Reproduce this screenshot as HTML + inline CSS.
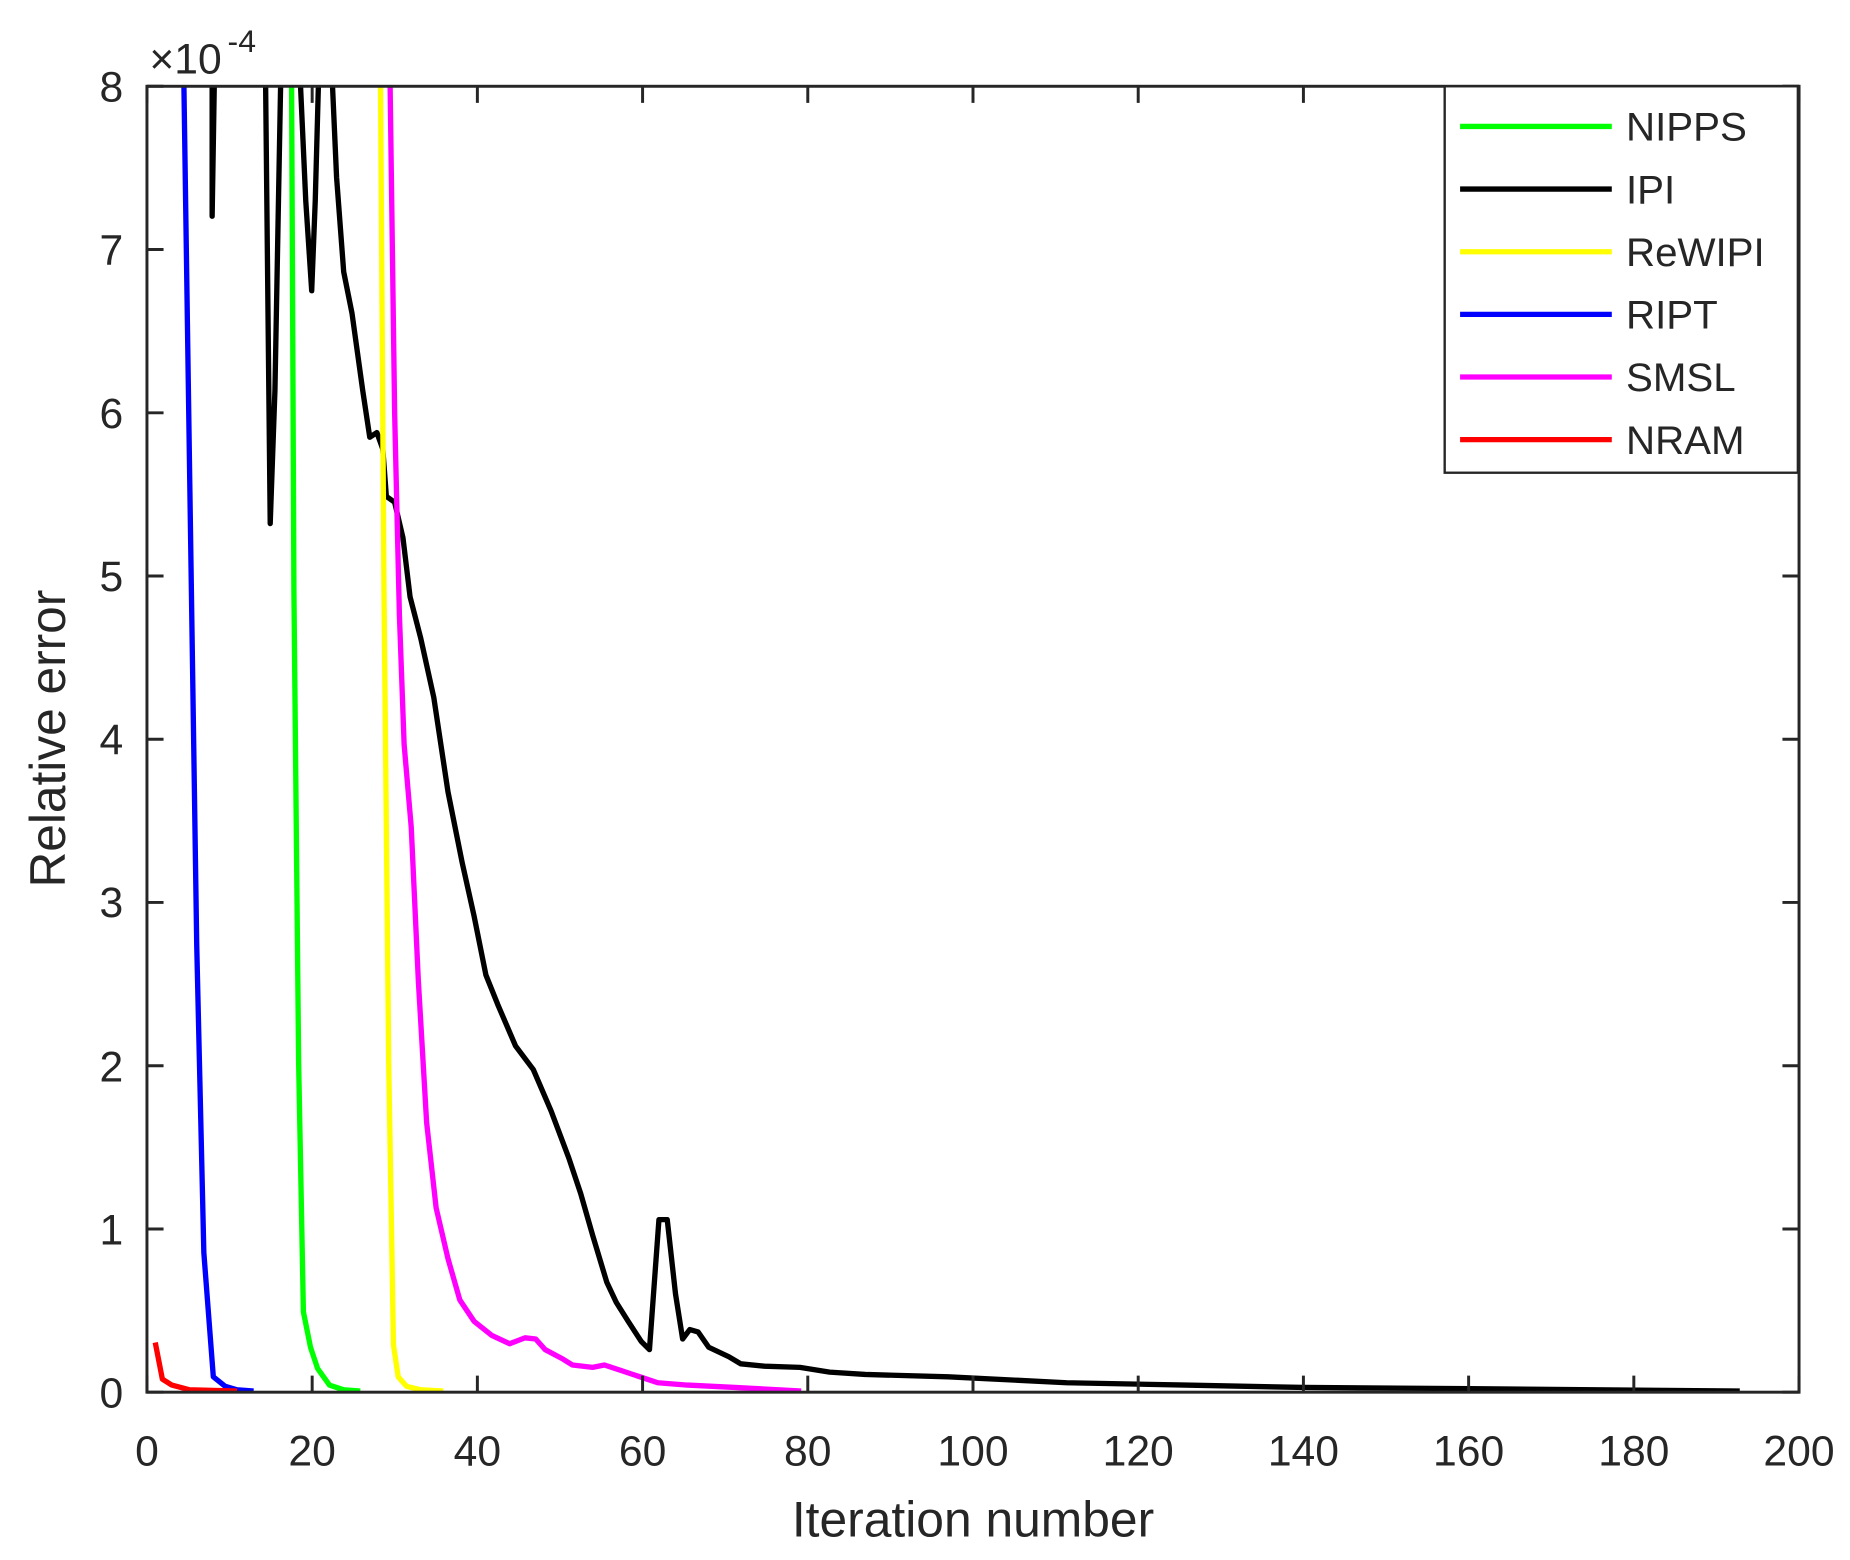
<!DOCTYPE html>
<html><head><meta charset="utf-8"><style>
html,body{margin:0;padding:0;background:#fff;}
svg{display:block;}
text{font-family:"Liberation Sans",Arial,sans-serif;fill:#262626;}
</style></head><body>
<svg width="1850" height="1560" viewBox="0 0 1561 1320" preserveAspectRatio="none" xmlns="http://www.w3.org/2000/svg">
<rect width="1561" height="1320" fill="#fff"/>
<defs><clipPath id="c"><rect x="124" y="73" width="1394" height="1105"/></clipPath></defs>
<g clip-path="url(#c)" fill="none" stroke-width="4.5" stroke-linejoin="round">
<polyline stroke="#000" points="179,60 179,183 181,60 224,60 228,443 232,330 237,60 253,60 258,170 263,246 266,170 269,60 280,60 284,150 290,230 297,265 306,330 312,370 318,366 323,380 326,420 333,425 340,455 346,505 355,540 366,590 378,670 390,730 400,775 410,825 420,850 435,885 450,905 465,940 480,980 490,1010 500,1045 512,1085 520,1102 530,1118 541,1135 548,1142 556,1032 563,1032 570,1095 576,1133 582,1125 589,1127 598,1140 615,1148 625,1154 645,1156 675,1157 700,1161 730,1163 800,1165 900,1170 1000,1172 1100,1174 1240,1175 1468,1177"/>
<polyline stroke="#00ff00" points="246,60 248,500 252,900 256,1110 262,1140 268,1158 278,1172 290,1176 304,1177"/>
<polyline stroke="#ffff00" points="321,60 324,500 328,900 332,1138 336,1165 343,1173 355,1176 374,1177"/>
<polyline stroke="#ff00ff" points="329,60 333,350 337,520 341,630 347,700 353,830 360,950 368,1022 378,1065 388,1100 400,1118 415,1130 430,1137 443,1132 452,1133 460,1142 475,1150 483,1155 500,1157 510,1155 525,1160 540,1165 555,1170 580,1172 620,1174 676,1177"/>
<polyline stroke="#0000ff" points="155,60 160,400 166,800 172,1060 180,1165 190,1173 200,1176 214,1177"/>
<polyline stroke="#ff0000" points="131,1136 137,1167 145,1172 160,1176 200,1177"/>
</g>
<g stroke="#262626" stroke-width="2.5" fill="none">
<rect x="124" y="73" width="1394" height="1105"/>
<path d="M124,1178v-14M263.4,1178v-14M402.8,1178v-14M542.2,1178v-14M681.6,1178v-14M821,1178v-14M960.4,1178v-14M1099.8,1178v-14M1239.2,1178v-14M1378.6,1178v-14M1518,1178v-14
M124,73v14M263.4,73v14M402.8,73v14M542.2,73v14M681.6,73v14M821,73v14M960.4,73v14M1099.8,73v14M1239.2,73v14M1378.6,73v14M1518,73v14
M124,1178h14M124,1039.9h14M124,901.8h14M124,763.6h14M124,625.5h14M124,487.4h14M124,349.3h14M124,211.1h14M124,73h14
M1518,1178h-14M1518,1039.9h-14M1518,901.8h-14M1518,763.6h-14M1518,625.5h-14M1518,487.4h-14M1518,349.3h-14M1518,211.1h-14M1518,73h-14"/>
</g>
<g font-size="36" text-anchor="middle">
<text x="124" y="1240">0</text><text x="263.4" y="1240">20</text><text x="402.8" y="1240">40</text><text x="542.2" y="1240">60</text><text x="681.6" y="1240">80</text><text x="821" y="1240">100</text><text x="960.4" y="1240">120</text><text x="1099.8" y="1240">140</text><text x="1239.2" y="1240">160</text><text x="1378.6" y="1240">180</text><text x="1518" y="1240">200</text>
</g>
<g font-size="36" text-anchor="end">
<text x="104" y="1191">0</text><text x="104" y="1053">1</text><text x="104" y="915">2</text><text x="104" y="776">3</text><text x="104" y="638">4</text><text x="104" y="500">5</text><text x="104" y="362">6</text><text x="104" y="224">7</text><text x="104" y="86">8</text>
</g>
<text x="126" y="62" font-size="36">×10</text><text x="192" y="44" font-size="27">-4</text>
<text x="821" y="1300" font-size="42" text-anchor="middle">Iteration number</text>
<text transform="translate(55,625) rotate(-90)" font-size="42" text-anchor="middle">Relative error</text>
<rect x="1219" y="73" width="298" height="327" fill="#fff" stroke="#262626" stroke-width="2"/>
<g stroke-width="4.5">
<line x1="1232" y1="107" x2="1360" y2="107" stroke="#00ff00"/>
<line x1="1232" y1="160" x2="1360" y2="160" stroke="#000"/>
<line x1="1232" y1="213" x2="1360" y2="213" stroke="#ffff00"/>
<line x1="1232" y1="266" x2="1360" y2="266" stroke="#0000ff"/>
<line x1="1232" y1="319" x2="1360" y2="319" stroke="#ff00ff"/>
<line x1="1232" y1="372" x2="1360" y2="372" stroke="#ff0000"/>
</g>
<g font-size="34">
<text x="1372" y="119">NIPPS</text><text x="1372" y="172">IPI</text><text x="1372" y="225">ReWIPI</text><text x="1372" y="278">RIPT</text><text x="1372" y="331">SMSL</text><text x="1372" y="384">NRAM</text>
</g>
</svg>
</body></html>
